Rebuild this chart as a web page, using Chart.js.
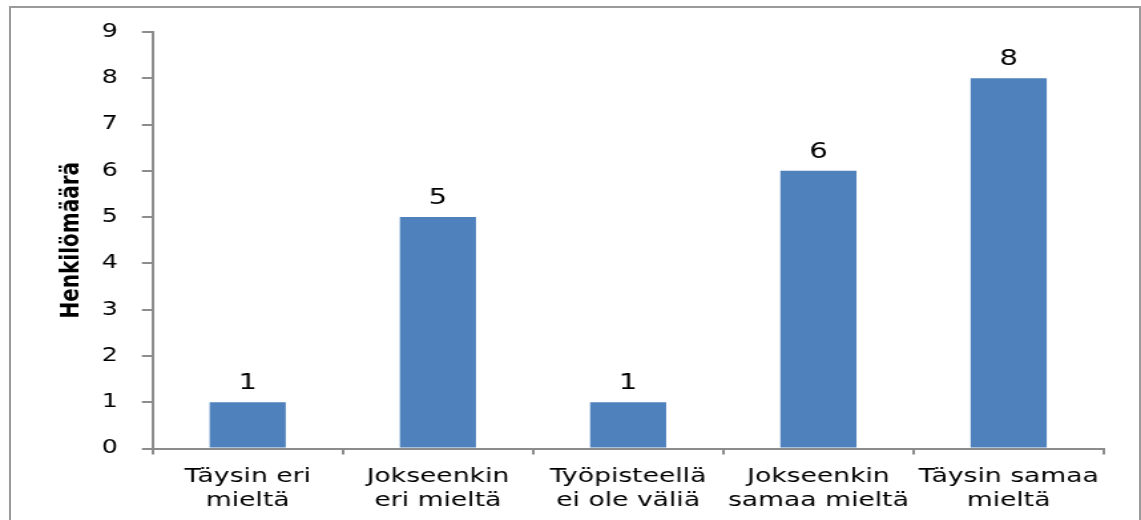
<!DOCTYPE html>
<html>
<head>
<meta charset="utf-8">
<script src="https://cdn.jsdelivr.net/npm/chart.js@4/dist/chart.umd.min.js"></script>
<style>
html, body { margin: 0; padding: 0; background: #fff; overflow: hidden; }
#frame { position: absolute; left: 9px; top: 6px; width: 1132px; height: 600px; border: 2px solid #9a9a9a; box-sizing: border-box; }
/* the original picture is stretched sideways, so the canvas is too */
#wrap { position: absolute; left: 0; top: 0; width: 858px; height: 520px; transform: scaleX(1.32984); transform-origin: 0 0; }
</style>
</head>
<body>
<div id="frame"></div>
<div id="wrap"><canvas id="c"></canvas></div>
<script>
const categories = [
    ['Täysin eri', 'mieltä'],
    ['Jokseenkin', 'eri mieltä'],
    ['Työpisteellä', 'ei ole väliä'],
    ['Jokseenkin', 'samaa mieltä'],
    ['Täysin samaa', 'mieltä'],
];
const counts = [1, 5, 1, 6, 8];
const yTickValues = [0, 1, 2, 3, 4, 5, 6, 7, 8, 9];
const yTitle = 'Henkilömäärä';

const barColor = '#4f81bd';
const axisColor = '#8c8c8c';
const fontFamily = "'DejaVu Sans', Verdana, sans-serif";

// value labels above the bars
const valueLabels = {
    id: 'valueLabels',
    afterDatasetsDraw(chart) {
        const ctx = chart.ctx;
        const meta = chart.getDatasetMeta(0);
        ctx.save();
        ctx.fillStyle = '#000';
        ctx.font = `22px ${fontFamily}`;
        ctx.textAlign = 'center';
        ctx.textBaseline = 'alphabetic';
        meta.data.forEach((bar, i) => {
            ctx.fillText(String(counts[i]), bar.x, bar.y - 13);
        });
        ctx.restore();
    }
};

const cfg = {
    type: 'bar',
    data: {
        labels: categories,
        datasets: [{
            data: counts,
            backgroundColor: barColor,
            borderWidth: 0,
            barPercentage: 0.4,
            categoryPercentage: 1,
        }],
    },
    options: {
        responsive: true,
        maintainAspectRatio: false,
        animation: false,
        events: [],
        layout: { padding: { top: 32, right: 28, left: 0, bottom: 0 } },
        plugins: {
            legend: { display: false },
            tooltip: { enabled: false },
        },
        scales: {
            x: {
                afterFit(scale) { scale.height = 71.5; },
                grid: {
                    offset: true,
                    drawOnChartArea: false,
                    drawTicks: true,
                    tickLength: 6,
                    color: axisColor,
                    lineWidth: 2,
                },
                border: { color: axisColor, width: 2 },
                ticks: {
                    color: '#000',
                    padding: 10,
                    maxRotation: 0,
                    autoSkip: false,
                    font: { family: fontFamily, size: 20, lineHeight: 1.2 },
                },
            },
            y: {
                min: 0,
                max: 9,
                afterFit(scale) { scale.width = 114.7; },
                afterBuildTicks(scale) { scale.ticks = yTickValues.map(v => ({ value: v })); },
                grid: {
                    drawOnChartArea: false,
                    drawTicks: true,
                    tickLength: 8,
                    color: axisColor,
                    lineWidth: 2,
                },
                border: { color: axisColor, width: 2 },
                ticks: {
                    color: '#000',
                    padding: 18,
                    font: { family: fontFamily, size: 19 },
                },
                title: {
                    display: true,
                    text: yTitle,
                    color: '#000',
                    padding: { top: 42, bottom: 0 },
                    font: { family: fontFamily, size: 20, weight: 'bold', lineHeight: 1.2 },
                },
            },
        },
    },
    plugins: [valueLabels],
};

new Chart(document.getElementById('c'), cfg);
</script>
</body>
</html>
